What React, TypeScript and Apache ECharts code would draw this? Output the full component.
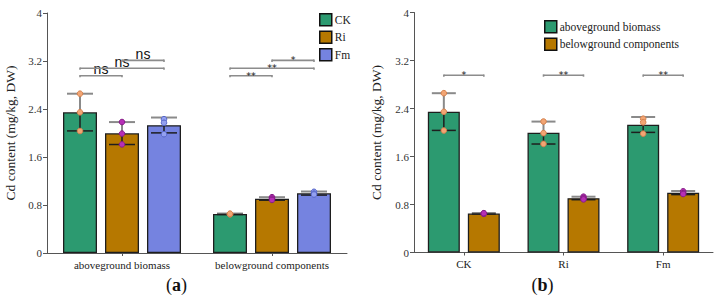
import React, { useEffect, useRef } from "react";
import * as echarts from "echarts";

const treatments = ["CK", "Ri", "Fm"];
const parts = ["aboveground biomass", "belowground components"];
const meanAbove = [2.345, 1.995, 2.13];
const meanBelow = [0.65, 0.905, 0.995];
const sdAbove = [0.31, 0.187, 0.128];
const sdBelow = [0.008, 0.025, 0.03];
const pointsAbove = [
  [2.655, 2.345, 2.033],
  [2.183, 1.99, 1.81],
  [2.23, 2.17, 1.98],
];
const pointsBelow = [
  [0.645, 0.65, 0.655],
  [0.93, 0.905, 0.885],
  [1.02, 0.99, 0.975],
];
// significance brackets: category, from bar, to bar, height (data units), label
const sigLeft = [
  { cat: 0, from: 0, to: 1, y: 2.955, label: "ns" },
  { cat: 0, from: 0, to: 2, y: 3.078, label: "ns" },
  { cat: 0, from: 1, to: 2, y: 3.21, label: "ns" },
  { cat: 1, from: 0, to: 1, y: 2.955, label: "**" },
  { cat: 1, from: 0, to: 2, y: 3.078, label: "**" },
  { cat: 1, from: 1, to: 2, y: 3.21, label: "*" },
];
const sigRight = [
  { cat: 0, from: 0, to: 1, y: 2.955, label: "*" },
  { cat: 1, from: 0, to: 1, y: 2.955, label: "**" },
  { cat: 2, from: 0, to: 1, y: 2.955, label: "**" },
];
const yMax = 4;
const yStep = 0.8;

const SERIF = "Liberation Serif";
const SANS = "Liberation Sans";
const barColors = ["#2c9a70", "#b67800", "#7583e0"];
const ptFill = ["#f2a574", "#b62fb6", "#93a0f0"];
const ptStroke = ["#d5824e", "#861d86", "#5565c8"];

const LBW = 34, LGAP = 8; // left bars
const RBW = 32, RGAP = 8; // right bars
const leftOff = (s: number) => (s - 1) * (LBW + LGAP);
const rightOff = (s: number) => (s - 0.5) * (RBW + RGAP);

function errRender(off: (s: number) => number, capHalf: number) {
  return (params: any, api: any) => {
    const cat = api.value(0), s = api.value(1), m = api.value(2), sd = api.value(3);
    const c = api.coord([cat, m]);
    const x = c[0] + off(s);
    const yM = c[1];
    const yT = api.coord([cat, m + sd])[1];
    const yB = api.coord([cat, m - sd])[1];
    const gray = { stroke: "#8a8a8a", lineWidth: 2, fill: "none" };
    const dark = { stroke: "#1e1e1e", lineWidth: 1.5, fill: "none" };
    return {
      type: "group",
      children: [
        { type: "line", shape: { x1: x, y1: yT, x2: x, y2: yM }, style: gray },
        { type: "line", shape: { x1: x, y1: yM, x2: x, y2: yB }, style: dark },
        { type: "line", shape: { x1: x - capHalf, y1: yT, x2: x + capHalf, y2: yT }, style: gray },
        { type: "line", shape: { x1: x - capHalf, y1: yB, x2: x + capHalf, y2: yB }, style: dark },
      ],
    };
  };
}

function ptRender(off: (s: number) => number, colorIdx: (s: number) => number) {
  return (params: any, api: any) => {
    const cat = api.value(0), s = api.value(1), v = api.value(2);
    const c = api.coord([cat, v]);
    const k = colorIdx(s);
    return {
      type: "circle",
      shape: { cx: c[0] + off(s), cy: c[1], r: 2.8 },
      style: { fill: ptFill[k], stroke: ptStroke[k], lineWidth: 1 },
    };
  };
}

function sigRender(list: any[], off: (s: number) => number) {
  return (params: any, api: any) => {
    const d = list[params.dataIndex];
    const a = api.coord([d.cat, d.y]);
    const x1 = a[0] + off(d.from);
    const x2 = a[0] + off(d.to);
    const y = a[1];
    const isNs = d.label === "ns";
    const ls = { stroke: "#8c8c8c", lineWidth: 1.6, fill: "none" };
    return {
      type: "group",
      children: [
        { type: "line", shape: { x1, y1: y, x2, y2: y }, style: ls },
        { type: "line", shape: { x1, y1: y - 0.8, x2: x1, y2: y + 1.5 }, style: ls },
        { type: "line", shape: { x1: x2, y1: y - 0.8, x2, y2: y + 1.5 }, style: ls },
        {
          type: "text",
          style: {
            text: d.label,
            x: (x1 + x2) / 2,
            y: isNs ? y - 6.5 : y - 0.5,
            align: "center",
            verticalAlign: "middle",
            fontFamily: isNs ? SANS : "DejaVu Sans",
            fontSize: isNs ? 14 : 9.5,
            fill: "#111",
          },
        },
      ],
    };
  };
}

export default function App() {
  const ref = useRef<HTMLDivElement>(null);
  useEffect(() => {
    if (!ref.current) return;
    const chart = echarts.init(ref.current, null, { renderer: "svg" });

    const leftErr: number[][] = [];
    const leftPts: number[][] = [];
    for (let s = 0; s < 3; s++) {
      leftErr.push([0, s, meanAbove[s], sdAbove[s]]);
      leftErr.push([1, s, meanBelow[s], sdBelow[s]]);
      pointsAbove[s].forEach((v) => leftPts.push([0, s, v]));
      pointsBelow[s].forEach((v) => leftPts.push([1, s, v]));
    }
    const rightErr: number[][] = [];
    const rightPts: number[][] = [];
    for (let c = 0; c < 3; c++) {
      rightErr.push([c, 0, meanAbove[c], sdAbove[c]]);
      rightErr.push([c, 1, meanBelow[c], sdBelow[c]]);
      pointsAbove[c].forEach((v) => rightPts.push([c, 0, v]));
      pointsBelow[c].forEach((v) => rightPts.push([c, 1, v]));
    }

    const axisLine = { lineStyle: { color: "#555", width: 1 } };
    const yAxisCommon = {
      type: "value",
      min: 0,
      max: yMax,
      interval: yStep,
      name: "Cd content (mg/kg, DW)",
      nameLocation: "middle",
      nameTextStyle: { fontFamily: SERIF, fontSize: 13.5, color: "#222" },
      axisLine: { show: true, ...axisLine },
      axisTick: { show: true, length: 4, lineStyle: { color: "#555" } },
      axisLabel: {
        fontFamily: SERIF,
        fontSize: 11,
        color: "#333",
        margin: 5,
        formatter: (v: number) => String(+v.toFixed(1)),
      },
      splitLine: { show: false },
    };
    const xAxisCommon = {
      type: "category",
      axisLine,
      axisTick: { show: true, alignWithLabel: true, length: 3, lineStyle: { color: "#555" } },
      axisLabel: { fontFamily: SERIF, fontSize: 11, color: "#222", margin: 6, interval: 0 },
    };
    const legendCommon = {
      orient: "vertical",
      itemWidth: 12,
      itemHeight: 12,
      itemGap: 4,
      padding: 0,
      icon: "rect",
      itemStyle: { borderColor: "#111", borderWidth: 1.5 },
      textStyle: { fontFamily: SERIF, fontSize: 11.5, color: "#222", padding: [0, 0, 0, -2] },
    };

    const barStyle = (color: string) => ({ color, borderColor: "#1e1e1e", borderWidth: 1.3 });
    const titleRich = {
      n: { fontFamily: SERIF, fontSize: 18, fill: "#111", color: "#111" },
      b: { fontFamily: SERIF, fontSize: 18, fontWeight: "bold", fill: "#111", color: "#111" },
    };

    chart.setOption({
      animation: false,
      color: ["#333"],
      grid: [
        { left: 47, top: 13, width: 300, height: 240 },
        { left: 414, top: 12.5, width: 299, height: 240 },
      ],
      xAxis: [
        { ...xAxisCommon, gridIndex: 0, data: parts },
        { ...xAxisCommon, gridIndex: 1, data: treatments },
      ],
      yAxis: [
        { ...yAxisCommon, gridIndex: 0, nameGap: 30 },
        { ...yAxisCommon, gridIndex: 1, nameGap: 31 },
      ],
      legend: [
        { ...legendCommon, data: treatments, left: 319, top: 13 },
        { ...legendCommon, data: parts, left: 544, top: 20 },
      ],
      graphic: [
        {
          type: "text",
          x: 176.5,
          y: 285,
          style: { text: "{n|(}{b|a}{n|)}", align: "center", verticalAlign: "middle", rich: titleRich },
        },
        {
          type: "text",
          x: 542.5,
          y: 285,
          style: { text: "{n|(}{b|b}{n|)}", align: "center", verticalAlign: "middle", rich: titleRich },
        },
      ],
      series: [
        ...treatments.map((t, s) => ({
          name: t,
          type: "bar",
          xAxisIndex: 0,
          yAxisIndex: 0,
          barWidth: LBW,
          barGap: `${(LGAP / LBW) * 100}%`,
          itemStyle: barStyle(barColors[s]),
          data: [meanAbove[s], meanBelow[s]],
        })),
        {
          name: parts[0],
          type: "bar",
          xAxisIndex: 1,
          yAxisIndex: 1,
          barWidth: RBW,
          barGap: `${(RGAP / RBW) * 100}%`,
          itemStyle: barStyle(barColors[0]),
          data: meanAbove,
        },
        {
          name: parts[1],
          type: "bar",
          xAxisIndex: 1,
          yAxisIndex: 1,
          barWidth: RBW,
          barGap: `${(RGAP / RBW) * 100}%`,
          itemStyle: barStyle(barColors[1]),
          data: meanBelow,
        },
        {
          type: "custom",
          xAxisIndex: 0,
          yAxisIndex: 0,
          clip: false,
          z: 5,
          itemStyle: { color: "#333" },
          encode: { x: 0, y: 2 },
          renderItem: errRender(leftOff, 13),
          data: leftErr,
        },
        {
          type: "custom",
          xAxisIndex: 0,
          yAxisIndex: 0,
          clip: false,
          z: 6,
          itemStyle: { color: "#333" },
          encode: { x: 0, y: 2 },
          renderItem: ptRender(leftOff, (s) => s),
          data: leftPts,
        },
        {
          type: "custom",
          xAxisIndex: 1,
          yAxisIndex: 1,
          clip: false,
          z: 5,
          itemStyle: { color: "#333" },
          encode: { x: 0, y: 2 },
          renderItem: errRender(rightOff, 12),
          data: rightErr,
        },
        {
          type: "custom",
          xAxisIndex: 1,
          yAxisIndex: 1,
          clip: false,
          z: 6,
          itemStyle: { color: "#333" },
          encode: { x: 0, y: 2 },
          renderItem: ptRender(rightOff, (s) => s),
          data: rightPts,
        },
        {
          type: "custom",
          xAxisIndex: 0,
          yAxisIndex: 0,
          clip: false,
          z: 5,
          itemStyle: { color: "#333" },
          encode: { x: 0, y: 1 },
          renderItem: sigRender(sigLeft, leftOff),
          data: sigLeft.map((d) => [d.cat, d.y]),
        },
        {
          type: "custom",
          xAxisIndex: 1,
          yAxisIndex: 1,
          clip: false,
          z: 5,
          itemStyle: { color: "#333" },
          encode: { x: 0, y: 1 },
          renderItem: sigRender(sigRight, rightOff),
          data: sigRight.map((d) => [d.cat, d.y]),
        },
      ],
    });
    return () => chart.dispose();
  }, []);
  return <div ref={ref} style={{ width: 718, height: 300, position: "absolute", left: 0, top: 0 }} />;
}
